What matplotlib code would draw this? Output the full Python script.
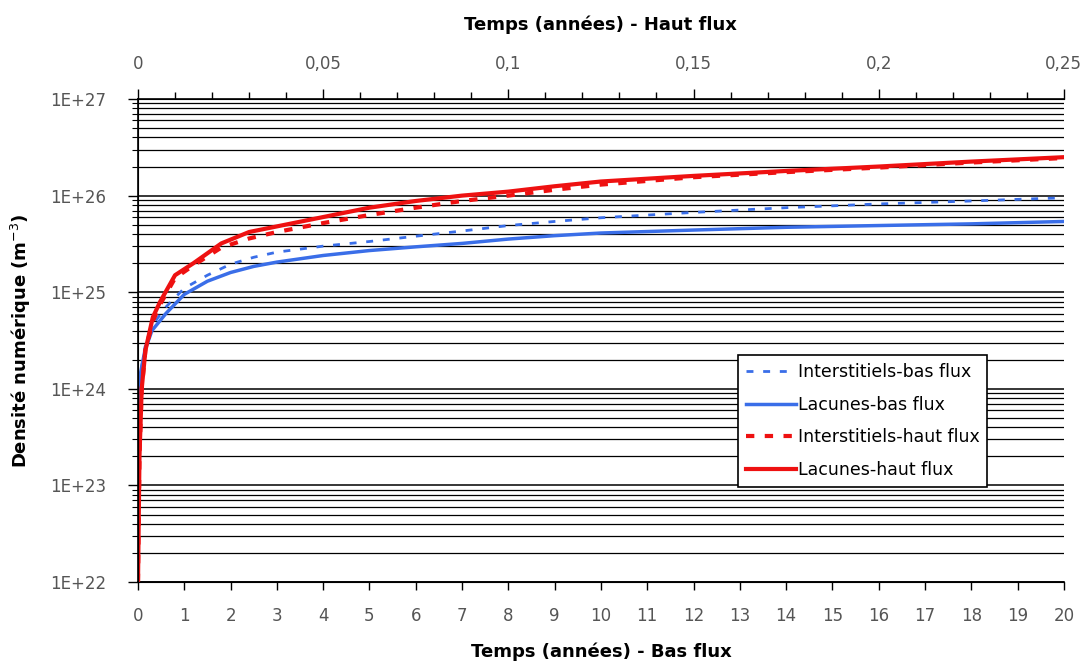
import matplotlib
matplotlib.use("Agg")
import matplotlib.pyplot as plt
from matplotlib.ticker import LogLocator, FixedLocator, MultipleLocator, NullFormatter

plt.rcParams['font.family'] = ['DejaVu Sans']

# Bas flux : temps en années (axe du bas)
t_bas = [0.02, 0.06, 0.15, 0.3, 0.6, 1.0, 1.5, 2.0, 2.5, 3.0, 4, 5, 6, 7, 8, 9, 10, 12, 14, 16, 18, 20]
lac_bas = [5e23, 1.5e24, 2.5e24, 4e24, 6e24, 9.5e24, 1.3e25, 1.6e25, 1.85e25, 2.05e25, 2.4e25,
           2.7e25, 2.95e25, 3.2e25, 3.55e25, 3.85e25, 4.1e25, 4.4e25, 4.7e25, 4.9e25, 5.1e25, 5.4e25]
int_bas = [5e23, 1.5e24, 2.7e24, 4.5e24, 7e24, 1.1e25, 1.5e25, 1.95e25, 2.3e25, 2.6e25, 3.0e25,
           3.35e25, 3.8e25, 4.3e25, 4.9e25, 5.4e25, 5.9e25, 6.7e25, 7.5e25, 8.2e25, 8.8e25, 9.5e25]

# Haut flux : temps en années (axe du haut)
t_haut = [0, 0.0004, 0.001, 0.002, 0.004, 0.006, 0.01, 0.015, 0.0225, 0.03, 0.0375, 0.05, 0.0625,
          0.075, 0.0875, 0.1, 0.1125, 0.125, 0.15, 0.175, 0.2, 0.225, 0.25]
lac_haut = [1e22, 2e23, 1e24, 2.5e24, 5.5e24, 8e24, 1.5e25, 2.0e25, 3.2e25, 4.2e25, 4.8e25, 6.0e25,
            7.5e25, 8.8e25, 1.0e26, 1.1e26, 1.25e26, 1.4e26, 1.6e26, 1.8e26, 2.0e26, 2.25e26, 2.5e26]
int_haut = [1e22, 2e23, 1e24, 2.5e24, 5e24, 7.5e24, 1.4e25, 1.9e25, 2.9e25, 3.6e25, 4.2e25, 5.2e25,
            6.3e25, 7.5e25, 8.8e25, 1.0e26, 1.15e26, 1.3e26, 1.55e26, 1.75e26, 1.95e26, 2.2e26, 2.45e26]

bas_ticks = list(range(0, 21))
haut_ticks = [0, 0.05, 0.1, 0.15, 0.2, 0.25]
haut_labels = ["0", "0,05", "0,1", "0,15", "0,2", "0,25"]
y_ticks = [1e22, 1e23, 1e24, 1e25, 1e26, 1e27]
y_labels = ["1E+22", "1E+23", "1E+24", "1E+25", "1E+26", "1E+27"]

blue = "#3a6ee8"
red = "#ee1111"
tick_col = "#555555"
title_font = dict(fontsize=13, fontweight="bold")

fig = plt.figure(figsize=(10.9, 6.69), dpi=100)
ax = fig.add_axes([0.1266, 0.130, 0.8494, 0.722])

l1, = ax.plot(t_bas, int_bas, color=blue, lw=2, ls=(0, (2.5, 3.5)), label="Interstitiels-bas flux")
l2, = ax.plot(t_bas, lac_bas, color=blue, lw=2.5, label="Lacunes-bas flux")
ax.set_yscale("log")
ax.set_ylim(1e22, 1e27)
ax.set_xlim(0, 20)
ax.set_xticks(bas_ticks)
ax.set_xticklabels([str(v) for v in bas_ticks])
ax.set_yticks(y_ticks)
ax.set_yticklabels(y_labels)
ax.yaxis.set_minor_locator(LogLocator(base=10, subs=range(2, 10)))
ax.yaxis.set_minor_formatter(NullFormatter())
ax.grid(True, which="major", axis="y", color="black", lw=1.1)
ax.grid(True, which="minor", axis="y", color="black", lw=0.9)
ax.tick_params(axis="y", which="major", length=7, width=1, labelsize=12, labelcolor=tick_col, pad=16)
ax.tick_params(axis="y", which="minor", length=4, width=0.8)
ax.tick_params(axis="x", which="major", length=6, width=1, labelsize=12, labelcolor=tick_col, pad=12)
ax.spines["right"].set_visible(False)
for s in ["left", "bottom", "top"]:
    ax.spines[s].set_linewidth(1.2)
ax.set_xlabel("Temps (années) - Bas flux", **title_font)
ax.set_ylabel("Densité numérique (m$^{-3}$)", **title_font)
ax.xaxis.set_label_coords(0.5, -0.125)
ax.yaxis.set_label_coords(-0.113, 0.5)

ax2 = ax.twiny()
l3, = ax2.plot(t_haut, int_haut, color=red, lw=3, ls=(0, (2, 2.5)), label="Interstitiels-haut flux")
l4, = ax2.plot(t_haut, lac_haut, color=red, lw=3, label="Lacunes-haut flux")
ax2.set_xlim(0, 0.25)
ax2.xaxis.set_major_locator(FixedLocator(haut_ticks))
ax2.set_xticklabels(haut_labels)
ax2.xaxis.set_minor_locator(MultipleLocator(0.01))
ax2.tick_params(axis="x", which="major", length=7, width=1, labelsize=12, labelcolor=tick_col, pad=12)
ax2.tick_params(axis="x", which="minor", length=5, width=1)
ax2.spines["right"].set_visible(False)
ax2.set_xlabel("Temps (années) - Haut flux", **title_font)
ax2.xaxis.set_label_coords(0.5, 1.143)

leg = ax2.legend(handles=[l1, l2, l3, l4], loc="upper left", bbox_to_anchor=(0.648, 0.47),
                 fontsize=12.5, frameon=True, fancybox=False, framealpha=1, edgecolor="black",
                 handlelength=2.9, handletextpad=0.1, labelspacing=0.85, borderpad=0.45,
                 borderaxespad=0)
leg.get_frame().set_linewidth(1.2)

fig.savefig("out.png", dpi=100)
